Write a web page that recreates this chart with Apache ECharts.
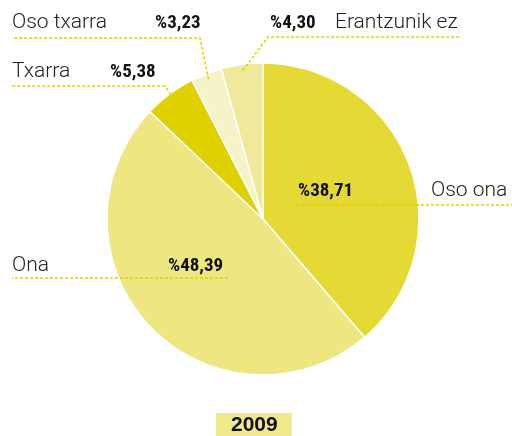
<!DOCTYPE html>
<html>
<head>
<meta charset="utf-8">
<script src="https://cdn.jsdelivr.net/npm/echarts@6/dist/echarts.min.js"></script>
<style>
  html, body { margin: 0; padding: 0; background: #fff; }
</style>
</head>
<body>
<div id="chart" style="width:512px;height:436px;"></div>
<script>
  // datuak
  var categories = ['Oso ona', 'Ona', 'Txarra', 'Oso txarra', 'Erantzunik ez'];
  var percents = [38.71, 48.39, 5.38, 3.23, 4.30];
  var year = '2009';

  var colors = ['#e4d935', '#ede681', '#dfd000', '#f6f3c9', '#f0e99b'];

  var cx = 263, cy = 219, radius = 156;

  // etiketen kokapena (lehen zatiaren zabalera barne)
  var labelPlaces = [
    { x: 298, y: 191, lineY: 205, x0: 296, x1: 512, firstW: 133, nameFirst: false, inside: true },
    { x: 12, y: 266, lineY: 278, x0: 228, x1: 12, firstW: 156, nameFirst: true, inside: true },
    { x: 12, y: 72, lineY: 86, x0: 165, x1: 12, firstW: 98, nameFirst: true, inside: false },
    { x: 12, y: 23, lineY: 38, x0: 200, x1: 12, firstW: 143, nameFirst: true, inside: false },
    { x: 270, y: 23, lineY: 37, x0: 268, x1: 460, firstW: 65, nameFirst: false, inside: false }
  ];

  function pctText (v) {
    return '%' + v.toFixed(2).replace('.', ',');
  }

  // zati bakoitzaren erdiko puntua ertzean
  function edgePoint (idx, r) {
    var total = percents.reduce(function (a, b) { return a + b; }, 0);
    var before = 0;
    for (var i = 0; i < idx; i++) before += percents[i];
    var a = (before + percents[idx] / 2) / total * Math.PI * 2;
    return [cx + r * Math.sin(a), cy - r * Math.cos(a)];
  }

  var nameStyle = { fontFamily: 'Roboto', fontWeight: 300, fontSize: 21, color: '#222' };
  var pctStyle = { fontFamily: "'Roboto Condensed', Roboto", fontWeight: 'bold', fontSize: 19, color: '#111' };

  var chart = echarts.init(document.getElementById('chart'));

  var pieData = categories.map(function (c, i) {
    return { name: c, value: percents[i] };
  });

  var option = {
    animation: false,
    color: colors,
    title: {
      text: year,
      left: 216,
      top: 413,
      padding: [2, 14, 3, 15],
      backgroundColor: '#f0e98c',
      textStyle: {
        fontFamily: 'Liberation Sans',
        fontWeight: 'bold',
        fontSize: 21,
        color: '#111'
      }
    },
    series: [{
      // zatiak
      type: 'pie',
      z: 1,
      center: [cx, cy],
      radius: [0, radius],
      startAngle: 90,
      clockwise: true,
      silent: true,
      itemStyle: { borderColor: '#fff', borderWidth: 1.5 },
      label: { show: false },
      labelLine: { show: false },
      data: pieData
    }, {
      // etiketak eta lerroak, zatien gainean
      type: 'pie',
      z: 5,
      center: [cx, cy],
      radius: [0, radius],
      startAngle: 90,
      clockwise: true,
      silent: true,
      avoidLabelOverlap: false,
      itemStyle: { color: 'rgba(0,0,0,0)', borderWidth: 0 },
      label: {
        show: true,
        position: 'outside',
        formatter: function (p) {
          var pl = labelPlaces[p.dataIndex];
          if (pl.nameFirst) {
            return '{n1|' + p.name + '}{p|' + pctText(p.value) + '}';
          }
          return '{p1|' + pctText(p.value) + '}{n|' + p.name + '}';
        }
      },
      labelLine: {
        show: true,
        lineStyle: { color: '#e0cf00', width: 1.5, type: [3, 2] }
      },
      labelLayout: function (params) {
        var pl = labelPlaces[params.dataIndex];
        var pts;
        if (pl.inside) {
          pts = [[pl.x0, pl.lineY], [(pl.x0 + pl.x1) / 2, pl.lineY], [pl.x1, pl.lineY]];
        } else {
          var e = edgePoint(params.dataIndex, radius - 6);
          pts = [e, [pl.x0, pl.lineY], [pl.x1, pl.lineY]];
        }
        return {
          x: pl.x,
          y: pl.y,
          align: 'left',
          verticalAlign: 'middle',
          labelLinePoints: pts
        };
      },
      data: pieData.map(function (d, i) {
        var w = labelPlaces[i].firstW;
        return {
          name: d.name,
          value: d.value,
          label: {
            rich: {
              n: nameStyle,
              p: pctStyle,
              n1: Object.assign({ width: w }, nameStyle),
              p1: Object.assign({ width: w }, pctStyle)
            }
          }
        };
      })
    }]
  };

  chart.setOption(option);
</script>
</body>
</html>
